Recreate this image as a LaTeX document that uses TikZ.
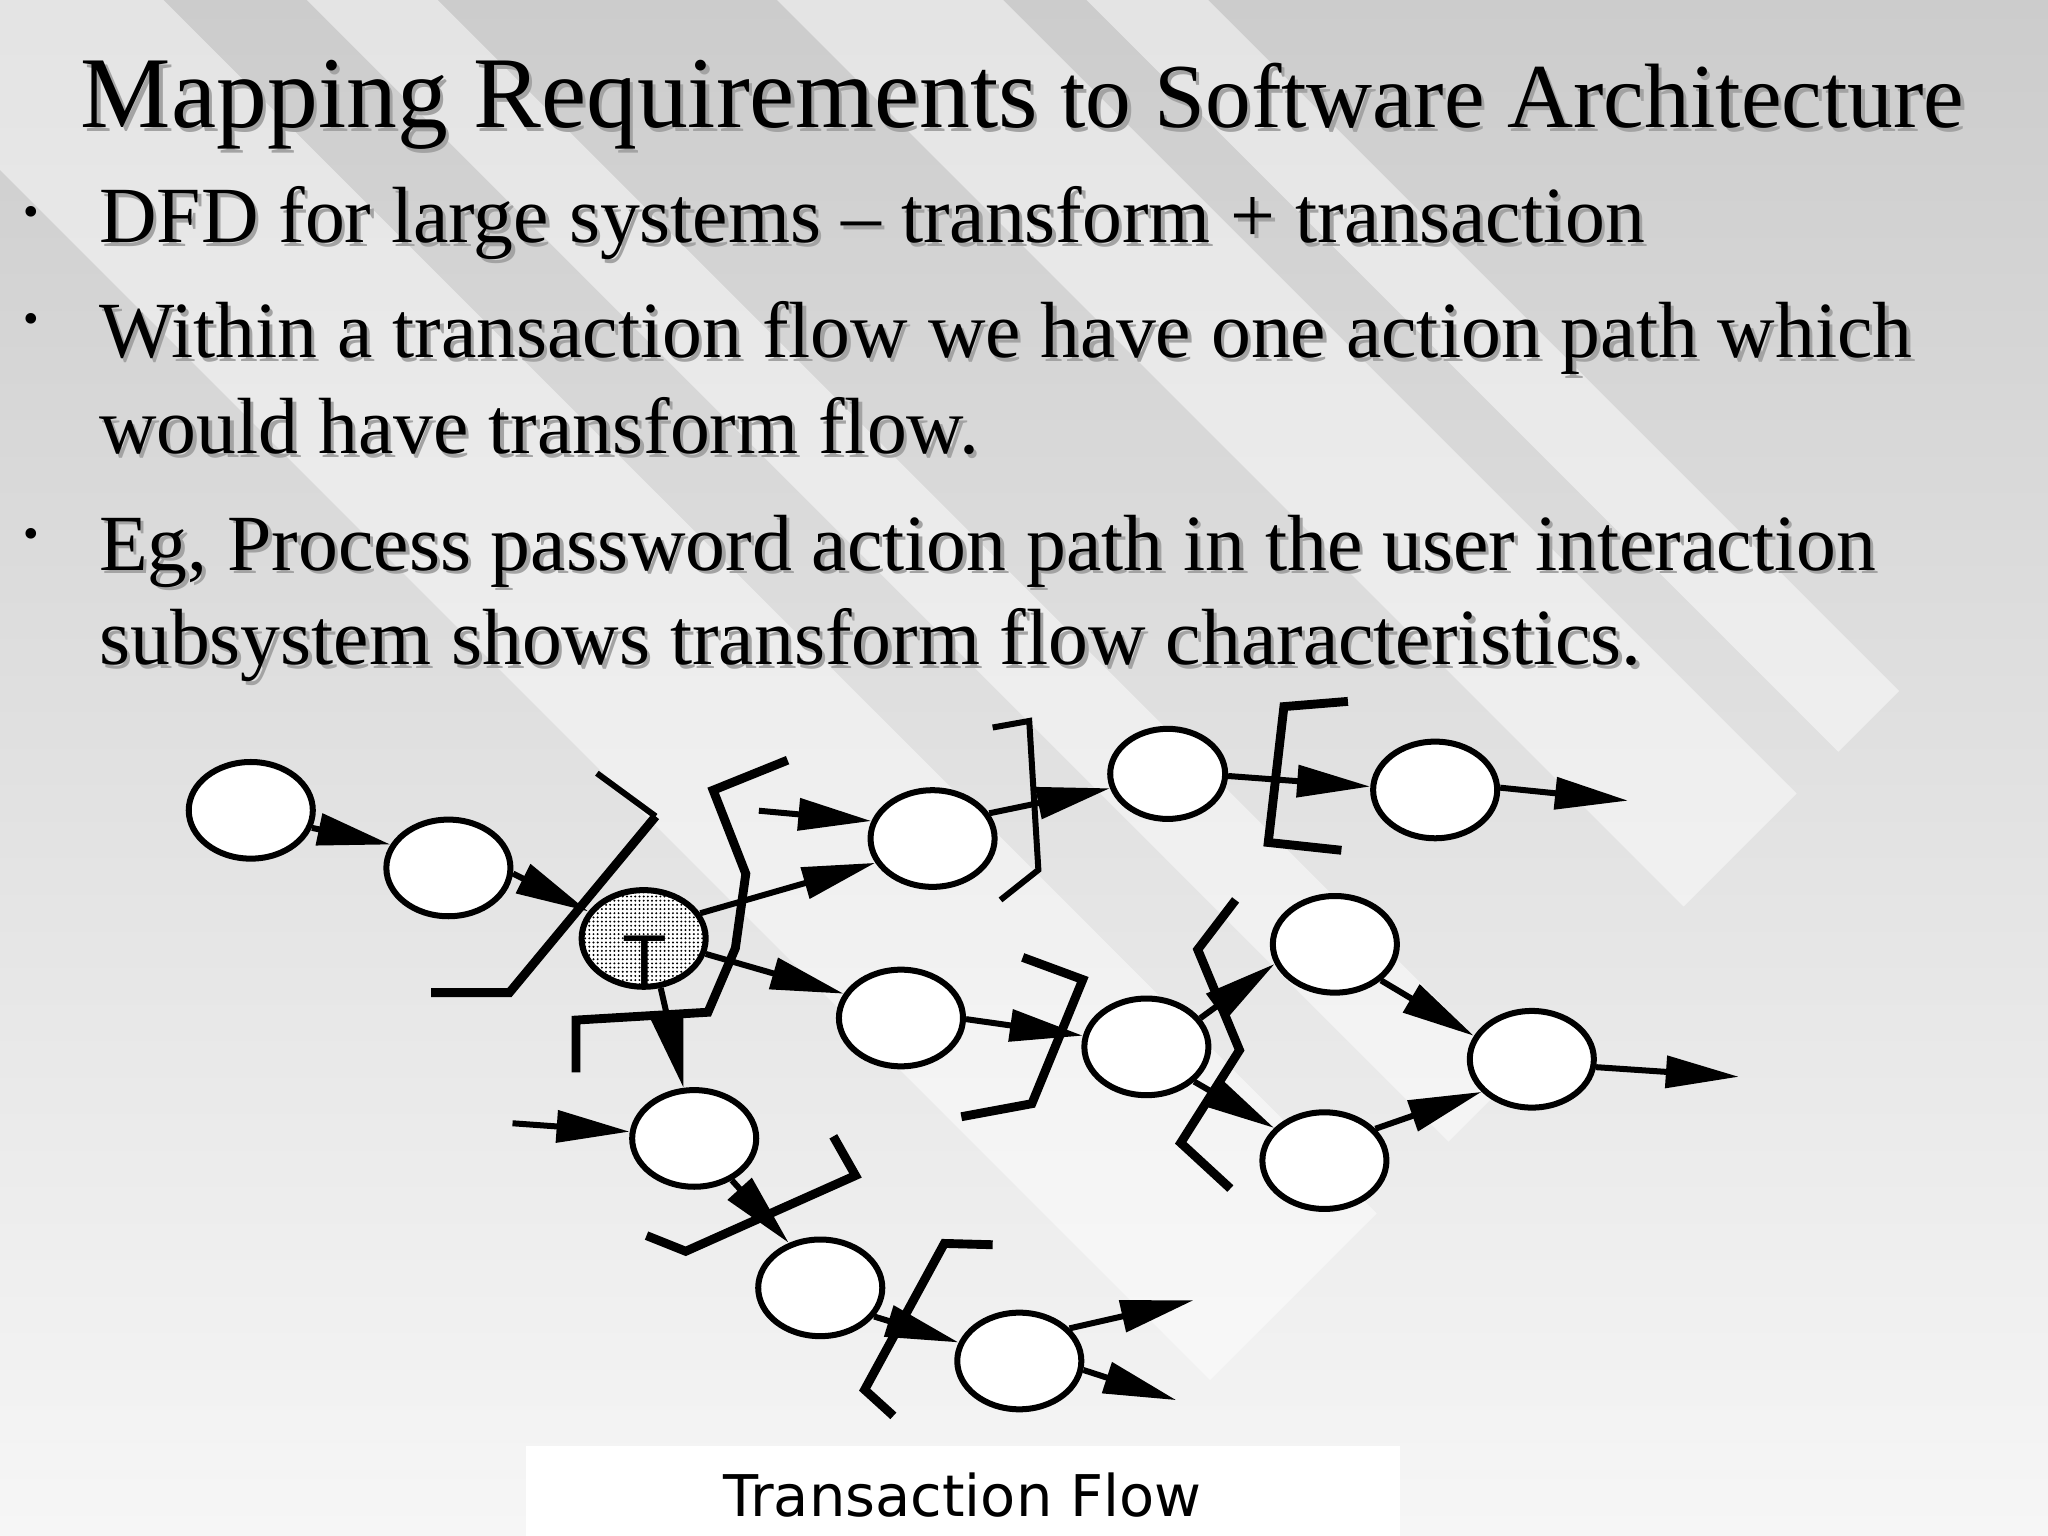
\documentclass[tikz,border=0pt]{standalone}
\usepackage{fontspec}
\setmainfont{Liberation Serif}
\newfontfamily\capfont{DejaVu Sans}
\usetikzlibrary{arrows.meta,shapes.geometric,patterns.meta}
\definecolor{bgtop}{gray}{0.80}
\definecolor{bgmid}{gray}{0.905}
\definecolor{bgbot}{gray}{0.965}
\definecolor{shadowgray}{gray}{0.64}
\newcommand\mytitlefont{\fontsize{38.9pt}{46pt}\selectfont}
\newcommand\mytitlesmall{\fontsize{35pt}{42pt}\selectfont}
\newcommand\mybodyfont{\fontsize{30.5pt}{36pt}\selectfont}
\newcommand\stxt[4]{%
  \node[txt, text=shadowgray, xshift=1.3pt, yshift=-1.3pt, font=#3] (#1s) at (#2) {#4};
  \node[txt, font=#3] (#1) at (#2) {#4};}
\tikzset{
  txt/.style={anchor=base west, inner sep=0pt, outer sep=0pt},
  band/.style={fill=white, fill opacity=0.48},
  proc/.style={ellipse, draw=black, line width=2.3pt, fill=white,
    minimum width=47.5pt, minimum height=37pt, inner sep=0pt},
  tpat/.style={preaction={fill=white}, pattern={Dots[distance=1.6pt, radius=0.42pt]}},
  flow/.style={line width=2.3pt, -{Triangle[length=28pt, width=12pt]}},
  brk/.style={line width=3.4pt},
  brkthin/.style={line width=2.3pt},
}
\begin{document}
\begin{tikzpicture}[x=0.5pt, y=-0.5pt]
\useasboundingbox (0,0) rectangle (1568,1176);
% background
\begin{scope}
  \clip (0,0) rectangle (1568,1176);
  \shade[top color=bgtop, middle color=bgmid, bottom color=bgbot] (0,0) rectangle (1568,1176);
  \foreach \da/\db in {-130/125, 235/335, 595/768, 832/925} {
    \fill[band] (\da,0) -- (\db,0) -- ({(1983+\db)/2},{(1983-\db)/2})
      -- ({(1983+\da)/2},{(1983-\da)/2}) -- cycle;
  }
  \fill[white] (403,1107) rectangle (1072,1176);
\end{scope}
% slide text
\stxt{title}{62,98}{\mytitlefont}{Mapping Requirements{\mytitlesmall{} to Software Architecture}}
\stxt{l1}{76,186}{\mybodyfont}{DFD for large systems – transform + transaction}
\stxt{l2}{76,274}{\mybodyfont}{Within a transaction flow we have one action path which}
\stxt{l3}{76,347.5}{\mybodyfont}{would have transform flow.}
\stxt{l4}{76,436.5}{\mybodyfont}{Eg, Process password action path in the user interaction}
\stxt{l5}{76,509}{\mybodyfont}{subsystem shows transform flow characteristics.}
\node[inner sep=0pt, font=\fontsize{17pt}{20pt}\selectfont] (b1) at (24,166) {•};
\node[inner sep=0pt, font=\fontsize{17pt}{20pt}\selectfont] (b2) at (24,248) {•};
\node[inner sep=0pt, font=\fontsize{17pt}{20pt}\selectfont] (b3) at (24,412) {•};
% brackets
\draw[brkthin] (457,592) -- (502,625);
\draw[brk] (502,625) -- (390,760) -- (330,760);
\draw[brk] (603,582) -- (546,605) -- (571,669) -- (563,726) -- (542,775) -- (441,781) -- (441,821);
\draw[brkthin] (760,557) -- (788,552) -- (795,666) -- (766,689);
\draw[brk] (1032,537) -- (983,541) -- (971,645) -- (1027,651);
\draw[brk] (783,733) -- (829,750) -- (790,845) -- (736,855);
\draw[brk] (946,689) -- (917,727) -- (949,804) -- (904,875) -- (942,910);
\draw[brk] (638,870) -- (655,900) -- (525,958) -- (495,946);
\draw[brk] (760,953) -- (723,952) -- (662,1064) -- (684,1084);
% processes
\node[proc] (A) at (192,620.4) {};
\node[proc] (B) at (343.3,664.5) {};
\node[proc, tpat] (T) at (492.8,718.5) {};
\node[inner sep=0pt, anchor=base, font=\capfont\fontsize{25.5pt}{30pt}\selectfont] (Tl) at (494,754) {T};
\node[proc] (C) at (714,642) {};
\node[proc, minimum width=44pt, minimum height=34.5pt] (D) at (894,592.5) {};
\node[proc] (E) at (1098.8,604.8) {};
\node[proc] (F) at (689.8,779.4) {};
\node[proc] (G) at (877.7,801.5) {};
\node[proc] (H) at (1022,723) {};
\node[proc] (I) at (1014,888.6) {};
\node[proc] (J) at (1172.8,811) {};
\node[proc] (K) at (531.5,871.6) {};
\node[proc] (L) at (628,986) {};
\node[proc] (M) at (780.4,1042) {};
% free ends
\coordinate (inC) at (581,620.7);
\coordinate (inK) at (392.4,860);
\coordinate (outE) at (1246.5,613);
\coordinate (outJ) at (1331.4,824.4);
\coordinate (outM1) at (914,995.4);
\coordinate (outM2) at (900.7,1072);
% flows
\draw[flow] (A.-16) -- (B.158);
\draw[flow] (B.-5) -- (T.154);
\draw[flow] (T.24) -- (C.203);
\draw[flow] (inC) -- (C.164);
\draw[flow] (T.-14) -- (F.157);
\draw[flow] (T.-71) -- (K.102);
\draw[flow] (inK) -- (K.174);
\draw[flow] (C.24) -- (D.194);
\draw[flow] (D.-2) -- (E.177);
\draw[flow] (E.2.5) -- (outE);
\draw[flow] (F.-1) -- (G.170);
\draw[flow] (G.28) -- (H.198);
\draw[flow] (G.-36) -- (I.147);
\draw[flow] (H.-38) -- (J.158);
\draw[flow] (I.32) -- (J.213);
\draw[flow] (J.-7) -- (outJ);
\draw[flow] (K.-48) -- (L.125);
\draw[flow] (L.-28) -- (M.163);
\draw[flow] (M.33) -- (outM1);
\draw[flow] (M.-8) -- (outM2);
% caption
\node[txt, font=\capfont\fontsize{22pt}{26pt}\selectfont] (cap) at (554,1161) {Transaction Flow};
\end{tikzpicture}
\end{document}
